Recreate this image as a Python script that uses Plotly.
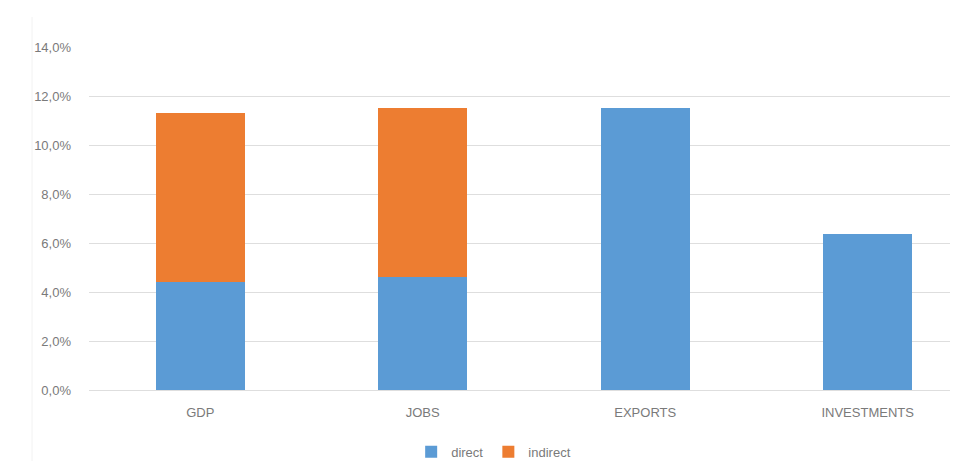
import plotly.graph_objects as go

# Contribution shares, in percent
categories = ["GDP", "JOBS", "EXPORTS", "INVESTMENTS"]
direct = [4.4, 4.6, 11.5, 6.35]
indirect = [6.9, 6.9, 0.0, 0.0]

y_tick_values = [0, 2, 4, 6, 8, 10, 12, 14]
y_tick_labels = ["0,0%", "2,0%", "4,0%", "6,0%", "8,0%", "10,0%", "12,0%", "14,0%"]

BLUE = "#5B9BD5"
ORANGE = "#ED7D31"
TEXT = "#7a7a7a"
GRID = "#dedede"

fig = go.Figure()
fig.add_trace(go.Bar(
    name="direct", x=list(range(len(categories))), y=direct,
    marker=dict(color=BLUE, line=dict(width=0)), width=0.4,
))
fig.add_trace(go.Bar(
    name="indirect", x=list(range(len(categories))), y=indirect,
    marker=dict(color=ORANGE, line=dict(width=0)), width=0.4,
))

fig.update_layout(
    barmode="stack",
    width=953, height=461,
    margin=dict(l=89, r=3, t=47, b=71, autoexpand=False),
    paper_bgcolor="white", plot_bgcolor="white",
    font=dict(family="Liberation Sans", size=13, color=TEXT),
    showlegend=True,
    legend=dict(
        orientation="h", x=0.47, xanchor="center",
        yref="container", y=0.02, yanchor="middle",
        font=dict(size=13, color=TEXT), itemwidth=30, traceorder="normal",
        bgcolor="rgba(0,0,0,0)",
    ),
    xaxis=dict(
        range=[-0.5, 3.37], tickmode="array",
        tickvals=list(range(len(categories))), ticktext=categories,
        showgrid=False, zeroline=False, showline=True, linecolor=GRID, linewidth=1,
        ticks="", ticklabelstandoff=10, fixedrange=True, automargin=False,
        tickfont=dict(size=13, color=TEXT),
    ),
    yaxis=dict(
        range=[0, 14], tickmode="array", tickvals=y_tick_values, ticktext=y_tick_labels,
        showgrid=True, gridcolor=GRID, gridwidth=1, zeroline=False, showline=False,
        ticks="", ticklabelstandoff=17, fixedrange=True, automargin=False,
        tickfont=dict(size=13, color=TEXT),
    ),
)

# faint chart-area border on the left
fig.add_shape(type="line", xref="paper", yref="paper",
              x0=-57 / 861, x1=-57 / 861, y0=-71 / 343, y1=1 + 30 / 343,
              line=dict(color="#f2f2f2", width=1))

fig.write_html("out.html")
